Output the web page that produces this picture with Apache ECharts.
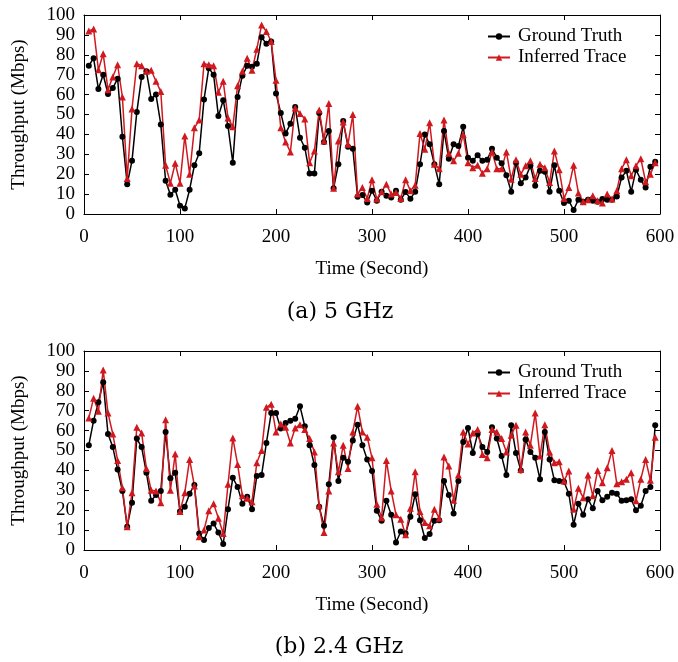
<!DOCTYPE html>
<html>
<head>
<meta charset="utf-8">
<script src="https://cdn.jsdelivr.net/npm/echarts@6/dist/echarts.min.js"></script>
<style>
  html, body { margin: 0; padding: 0; background: #fff; }
  #chart { width: 678px; height: 662px; }
</style>
</head>
<body>
<div id="chart"></div>
<script>
// sample times (seconds), one point every 5 s
var times = [];
for (var s = 5; s <= 595; s += 5) times.push(s);

// (a) 5 GHz
var gt5 = [74.5, 78.3, 62.8, 70, 60.3, 63.3, 68, 38.8, 15, 26.7, 51.2, 68.8, 71.7, 57.8, 60, 45, 16.7, 9.7, 12.2, 4.2,
  2.8, 12.2, 24.5, 30.5, 57.5, 73.3, 70, 49.2, 57.2, 44.2,
  25.8, 58.8, 69.5, 74.5, 74, 75.5, 88.8, 85.5, 86.7, 60.5, 50.8, 40.5, 45.3, 53.8, 38.3, 33.3, 20.3, 20.3, 50.8, 36.2,
  41.7, 13, 25, 46.7, 33.8, 32.8, 8.7, 9.5, 5.8, 11.7,
  6.7, 11.2, 9.2, 8.3, 11.7, 7.2, 11, 7.7, 11.2, 25, 40, 35, 25, 15, 41.7, 27.8, 35, 34.2, 43.8, 28.3,
  26.7, 29.5, 26.7, 27.2, 32.8, 28.3, 25.5, 19.5, 11.2, 25.8,
  15.5, 18.3, 24.2, 14.2, 21.7, 21.2, 11.2, 24.5, 11.7, 5.5, 6.7, 2, 7.2, 6.2, 7.2, 6.7, 6.2, 7.5, 7.2, 7.2,
  8.8, 18.3, 21.7, 11.2, 22.2, 17.2, 13.3, 23.8, 26.2];
var inf5 = [92, 93, 72.5, 80.5, 62.5, 68.8, 75, 58.8, 17.8, 52.8, 75.5, 74.5, 71.7, 72.2, 66.7, 61.5, 24.5, 15.5, 25.5, 15.5,
  39.2, 20, 43.3, 47.2, 75.5, 75, 74.5, 61.2, 66.7, 48.3,
  43.8, 64.5, 71.7, 78.3, 72.2, 82.8, 95, 91.7, 86.7, 67.2, 43.3, 36.2, 31.2, 53.3, 50.5, 47.8, 25.8, 31.7, 52.2, 36.7,
  55.5, 13, 36.7, 46.2, 35, 50, 10, 13.3, 7.8, 17.2,
  7.5, 11.2, 15, 10, 10.8, 7.8, 17.2, 11.7, 14.5, 40.5, 32.5, 45.8, 25, 22.8, 47.2, 30.5, 26.7, 30.5, 40, 25.8,
  23.3, 24.5, 20.5, 22.8, 31.2, 22.8, 22.8, 31.2, 17.5, 27.2,
  20, 24.2, 26.7, 17.8, 25, 23.3, 15.8, 31.7, 22.2, 7.8, 13.3, 24.5, 10.5, 6.2, 7.2, 9.2, 6.7, 5.5, 10, 7.5,
  11.7, 22.8, 27.2, 19.2, 24.2, 27.8, 16.2, 20, 25.8];

// (b) 2.4 GHz
var gt24 = [52.7, 65, 74.3, 84.3, 58.3, 51.7, 40.5, 29.7, 11.7, 23.8, 56, 51.7, 38.8, 24.7, 27.7, 29.7, 59.3, 36, 38.8, 19.3,
  21.7, 28.3, 32.7, 8.3, 5, 11, 13.3, 8.8, 3, 20.5,
  36.3, 31.7, 23.3, 26.7, 20.5, 37.2, 37.7, 53.8, 68.8, 68.8, 61, 63.8, 65, 66, 72.2, 62.2, 52.7, 42.7, 21.7, 12.2,
  33, 56.7, 34.7, 46.3, 44.3, 55, 63, 52.7, 45.5, 39.7,
  19.7, 14.7, 24.7, 17.7, 3.8, 9.3, 8.3, 16.7, 28, 15, 6, 8, 14.7, 15, 34.7, 27.7, 18.3, 34.7, 54.3, 61.3,
  48.8, 58.3, 51.7, 49.3, 61.7, 56, 47.2, 37.7, 62.7, 48.8,
  40, 55.5, 49.3, 46.3, 35.5, 59.3, 45.5, 35, 34.7, 34.3, 28.3, 12.7, 23.3, 17.7, 25.5, 21, 29.7, 25, 26.7, 28.8,
  28.3, 24.7, 25, 25.5, 20, 22.2, 29.7, 31.7, 62.7];
var inf24 = [66.3, 76.3, 69.7, 90.5, 68.8, 58.3, 45, 31.3, 11.7, 28.8, 61.7, 58.8, 41, 30, 29.7, 23.8, 65.5, 30, 48.3, 19.3,
  28.8, 45.5, 32.2, 6.7, 10, 19.7, 23.3, 16, 8.3, 33,
  56.3, 43, 27.2, 26, 24.3, 43.8, 50, 71.7, 73.3, 59.3, 63.3, 61.7, 53.8, 61.3, 63, 60.5, 56, 49.3, 22.2, 8.8,
  29.7, 53.8, 39.3, 52.7, 41, 59.3, 72.2, 59.3, 56.7, 46.3,
  23, 16.2, 45, 29.7, 17.7, 15.5, 7.7, 21, 39.3, 19.3, 13.8, 12.2, 20.5, 16, 46.7, 42.2, 25, 37.7, 59.3, 53.3,
  58.8, 60.5, 48, 46.3, 60.5, 59.3, 56, 49.3, 57.7, 62.7,
  40.5, 59.3, 52.7, 68.8, 47.2, 63, 49.3, 43.8, 44.3, 34.7, 39.7, 20.5, 31, 26.3, 37.7, 27.2, 40, 33.8, 41.3, 50,
  33.3, 34.3, 35.5, 38.8, 24.7, 35.5, 45.5, 35, 56.7];

var captions = ['(a) 5 GHz', '(b) 2.4 GHz'];
var seriesNames = ['Ground Truth', 'Inferred Trace'];

var FONT = 'Liberation Serif';
var RED = '#d0181f';

function pairs(vals) {
  return times.map(function (t, i) { return [t, vals[i]]; });
}

var lineStyle = { color: '#000', width: 1 };
var tick = { show: true, inside: true, length: 5, lineStyle: lineStyle };

var grids = [
  { left: 84, right: 18, top: 15, height: 199 },
  { left: 84, right: 18, top: 351, height: 199 }
];

var xAxes = [], yAxes = [], series = [], legends = [];
[0, 1].forEach(function (g) {
  xAxes.push({
    gridIndex: g, type: 'value', min: 0, max: 600, interval: 100, position: 'bottom',
    name: 'Time (Second)', nameLocation: 'middle', nameGap: 46,
    nameTextStyle: { fontFamily: FONT, fontSize: 19, color: '#000' },
    axisLine: { show: true, onZero: false, lineStyle: lineStyle },
    axisTick: tick, splitLine: { show: false },
    axisLabel: { fontFamily: FONT, fontSize: 19, color: '#000', margin: 14 }
  });
  xAxes.push({
    gridIndex: g, type: 'value', min: 0, max: 600, interval: 100, position: 'top',
    axisLine: { show: true, onZero: false, lineStyle: lineStyle },
    axisTick: tick, splitLine: { show: false }, axisLabel: { show: false }
  });
  yAxes.push({
    gridIndex: g, type: 'value', min: 0, max: 100, interval: 10, position: 'left',
    name: 'Throughput (Mbps)', nameLocation: 'middle', nameGap: 55,
    nameTextStyle: { fontFamily: FONT, fontSize: 19, color: '#000' },
    axisLine: { show: true, onZero: false, lineStyle: lineStyle },
    axisTick: tick, splitLine: { show: false },
    axisLabel: { fontFamily: FONT, fontSize: 19, color: '#000', margin: 9 }
  });
  yAxes.push({
    gridIndex: g, type: 'value', min: 0, max: 100, interval: 10, position: 'right',
    axisLine: { show: true, onZero: false, lineStyle: lineStyle },
    axisTick: tick, splitLine: { show: false }, axisLabel: { show: false }
  });

  var gt = g === 0 ? gt5 : gt24;
  var inf = g === 0 ? inf5 : inf24;
  series.push({
    name: seriesNames[0], type: 'line', xAxisIndex: g * 2, yAxisIndex: g * 2,
    data: pairs(gt), symbol: 'circle', symbolSize: 6, showAllSymbol: true,
    lineStyle: { color: '#000', width: 1.5 }, itemStyle: { color: '#000' },
    animation: false
  });
  series.push({
    name: seriesNames[1], type: 'line', xAxisIndex: g * 2, yAxisIndex: g * 2,
    data: pairs(inf), symbol: 'triangle', symbolSize: 7, showAllSymbol: true,
    lineStyle: { color: RED, width: 1.5 }, itemStyle: { color: RED },
    animation: false
  });

  legends.push({
    orient: 'vertical', left: 482, top: g === 0 ? 22 : 358,
    itemWidth: 22, itemHeight: 8, itemGap: 2,
    data: seriesNames,
    textStyle: { fontFamily: FONT, fontSize: 19, color: '#000', padding: [0, 0, 0, 3] }
  });
});

var myChart = echarts.init(document.getElementById('chart'), null, { renderer: 'canvas' });
myChart.setOption({
  backgroundColor: '#fff',
  animation: false,
  grid: grids,
  xAxis: xAxes,
  yAxis: yAxes,
  legend: legends,
  series: series,
  graphic: [
    { type: 'text', x: 340, y: 312, style: { text: captions[0], fontFamily: 'DejaVu Serif', fontSize: 22, fill: '#000', textAlign: 'center', textVerticalAlign: 'middle' } },
    { type: 'text', x: 339, y: 647, style: { text: captions[1], fontFamily: 'DejaVu Serif', fontSize: 22, fill: '#000', textAlign: 'center', textVerticalAlign: 'middle' } }
  ]
});
</script>
</body>
</html>
